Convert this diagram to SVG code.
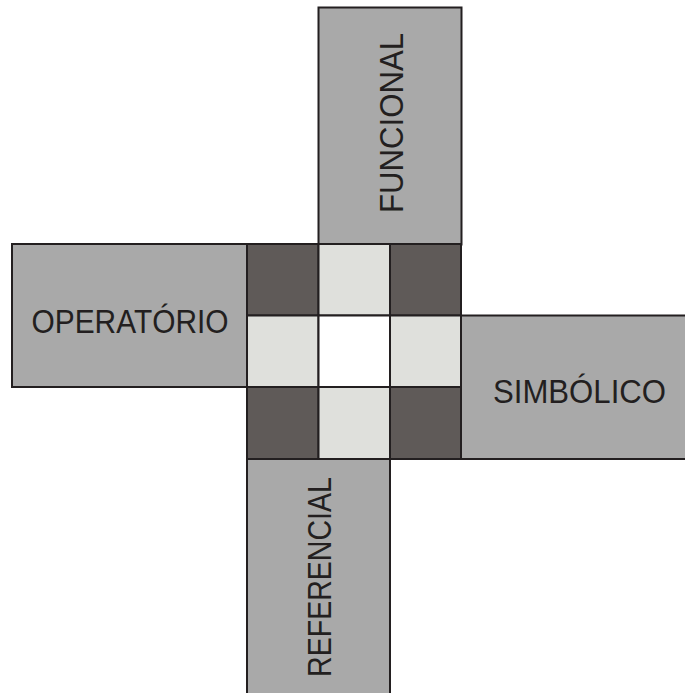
<svg xmlns="http://www.w3.org/2000/svg" width="685" height="693" viewBox="0 0 685 693">
<style>
.arm{fill:#a9a9a9;stroke:#231f20;stroke-width:2}
.dk{fill:#5f5a58;stroke:#231f20;stroke-width:2}
.lt{fill:#dfe0dc;stroke:#231f20;stroke-width:2}
.wh{fill:#ffffff;stroke:#231f20;stroke-width:2}
.lbl{font-family:"Liberation Sans",Arial,sans-serif;font-size:33px;fill:#231f20;text-anchor:middle}
</style>
<rect width="685" height="693" fill="#ffffff"/>
<g id="funcional">
<rect class="arm" x="318.5" y="7.5" width="143" height="237"/>
<text class="lbl" transform="translate(403,123) rotate(-90)" x="0" y="0" textLength="180" lengthAdjust="spacingAndGlyphs">FUNCIONAL</text>
</g>
<g id="operatorio">
<rect class="arm" x="12" y="244" width="235" height="143"/>
<text class="lbl" x="130" y="332.5" textLength="197" lengthAdjust="spacingAndGlyphs">OPERATÓRIO</text>
</g>
<g id="simbolico">
<rect class="arm" x="461" y="315.5" width="230" height="143.5"/>
<text class="lbl" x="579.5" y="403" textLength="173" lengthAdjust="spacingAndGlyphs">SIMBÓLICO</text>
</g>
<g id="referencial">
<rect class="arm" x="247" y="459" width="143" height="240"/>
<text class="lbl" transform="translate(331,577) rotate(-90)" x="0" y="0" textLength="200" lengthAdjust="spacingAndGlyphs">REFERENCIAL</text>
</g>
<g id="grid">
<rect class="dk" x="247" y="244" width="71.5" height="71.5"/>
<rect class="lt" x="318.5" y="244" width="71.5" height="71.5"/>
<rect class="dk" x="390" y="244" width="71" height="71.5"/>
<rect class="lt" x="247" y="315.5" width="71.5" height="71.5"/>
<rect class="wh" x="318.5" y="315.5" width="71.5" height="71.5"/>
<rect class="lt" x="390" y="315.5" width="71" height="71.5"/>
<rect class="dk" x="247" y="387" width="71.5" height="72"/>
<rect class="lt" x="318.5" y="387" width="71.5" height="72"/>
<rect class="dk" x="390" y="387" width="71" height="72"/>
</g>
</svg>
